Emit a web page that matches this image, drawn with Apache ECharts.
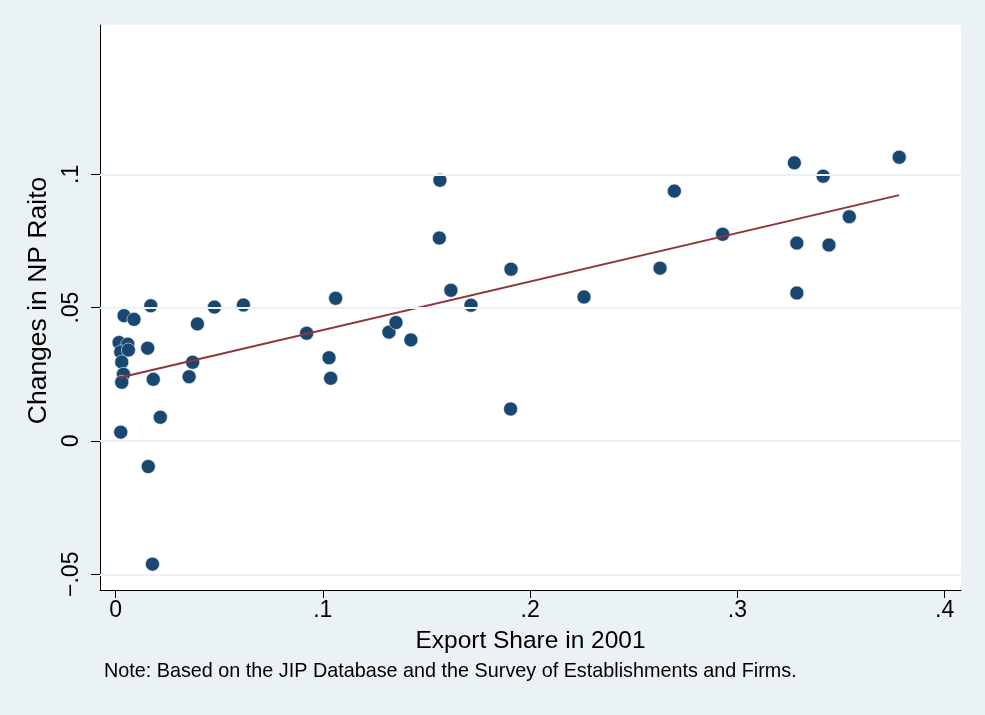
<!DOCTYPE html>
<html>
<head>
<meta charset="utf-8">
<script src="https://cdn.jsdelivr.net/npm/echarts@6/dist/echarts.min.js"></script>
<style>
html,body{margin:0;padding:0;background:#eaf2f3;}
#c{width:985px;height:715px;}
</style>
</head>
<body>
<div id="c"></div>
<script>
// Export share in 2001 (x) and change in NP ratio (y)
var exportShare = [0.0017,0.0059,0.0025,0.0062,0.0030,0.0038,0.0030,0.0041,0.0089,0.0170,
  0.0155,0.0182,0.0216,0.0025,0.0158,0.0178,0.0395,0.0477,0.0617,0.0372,
  0.0355,0.0922,0.1062,0.1030,0.1038,0.1319,0.1353,0.1425,0.1565,0.1562,
  0.1618,0.1715,0.1908,0.1906,0.2260,0.2627,0.2696,0.2929,0.3275,0.3287,
  0.3287,0.3414,0.3442,0.3540,0.3781];
var npChange = [0.0369,0.0363,0.0334,0.0341,0.0296,0.0250,0.0220,0.0470,0.0456,0.0507,
  0.0348,0.0231,0.0089,0.0033,-0.0096,-0.0462,0.0439,0.0502,0.0510,0.0295,
  0.0241,0.0404,0.0535,0.0312,0.0235,0.0408,0.0444,0.0379,0.0978,0.0761,
  0.0565,0.0509,0.0644,0.0120,0.0540,0.0648,0.0937,0.0775,0.1043,0.0742,
  0.0555,0.0993,0.0735,0.0841,0.1064];
// Fitted line endpoints
var fitX = [0.0017, 0.3781];
var fitY = [0.0237, 0.0922];
// Tick values and labels
var xTicks = [0, 0.1, 0.2, 0.3, 0.4];
var xTickLabels = ['0', '.1', '.2', '.3', '.4'];
var yTicks = [-0.05, 0, 0.05, 0.1];
var yTickLabels = ['\u2212.05', '0', '.05', '.1'];

var xLabelMap = {}; xTicks.forEach(function(v,i){ xLabelMap[v.toFixed(4)] = xTickLabels[i]; });
var yLabelMap = {}; yTicks.forEach(function(v,i){ yLabelMap[v.toFixed(4)] = yTickLabels[i]; });

var pts = exportShare.map(function(x,i){ return [x, npChange[i]]; });
var fitPts = fitX.map(function(x,i){ return [x, fitY[i]]; });

var font = 'Liberation Sans, Arial, sans-serif';
var chart = echarts.init(document.getElementById('c'));
chart.setOption({
  backgroundColor: '#eaf2f3',
  animation: false,
  grid: {left: 100, right: 24, top: 25, bottom: 125, show: true, backgroundColor: '#ffffff', borderWidth: 0},
  xAxis: {
    type: 'value', min: -0.0075, max: 0.4079,
    name: 'Export Share in 2001', nameLocation: 'middle', nameGap: 39,
    nameTextStyle: {fontFamily: font, fontSize: 24.5, color: '#000'},
    axisLine: {show: true, onZero: false, lineStyle: {color: '#000', width: 1}},
    axisTick: {show: true, length: 8, customValues: xTicks, lineStyle: {color: '#000', width: 1}},
    axisLabel: {customValues: xTicks, margin: 9, fontFamily: font, fontSize: 23, color: '#000',
      formatter: function(v){ return xLabelMap[v.toFixed(4)] || ''; }},
    splitLine: {show: false}
  },
  yAxis: {
    type: 'value', min: -0.0559, max: 0.156,
    name: 'Changes in NP Raito', nameLocation: 'middle', nameGap: 43, nameRotate: 90,
    nameTextStyle: {fontFamily: font, fontSize: 26.5, color: '#000', padding: [0, 0, 0, 14]},
    axisLine: {show: true, onZero: false, lineStyle: {color: '#000', width: 1}},
    axisTick: {show: true, length: 9, customValues: yTicks, lineStyle: {color: '#000', width: 1}},
    axisLabel: {customValues: yTicks, rotate: 90, margin: 17, fontFamily: font, fontSize: 23, color: '#000',
      formatter: function(v){ return yLabelMap[v.toFixed(4)] || ''; }},
    splitLine: {show: false}
  },
  graphic: [{
    type: 'text', left: 104, top: 662,
    style: {text: 'Note: Based on the JIP Database and the Survey of Establishments and Firms.',
      fontFamily: font, fontSize: 19.8, fill: '#000'}
  }],
  series: [{
    type: 'line', data: [], silent: true,
    markLine: {symbol: 'none', silent: true, label: {show: false},
      lineStyle: {color: '#eaf2f3', width: 2, type: 'solid'},
      data: yTicks.map(function(v){ return {yAxis: v}; })}
  }, {
    type: 'scatter', data: pts, symbol: 'circle', symbolSize: 14,
    itemStyle: {color: '#1a476f', borderColor: '#e8eef2', borderWidth: 0.6, opacity: 1}, z: 3
  }, {
    type: 'line', data: fitPts, showSymbol: false, symbol: 'none',
    lineStyle: {color: '#90353b', width: 2}, z: 4
  }]
});
</script>
</body>
</html>
